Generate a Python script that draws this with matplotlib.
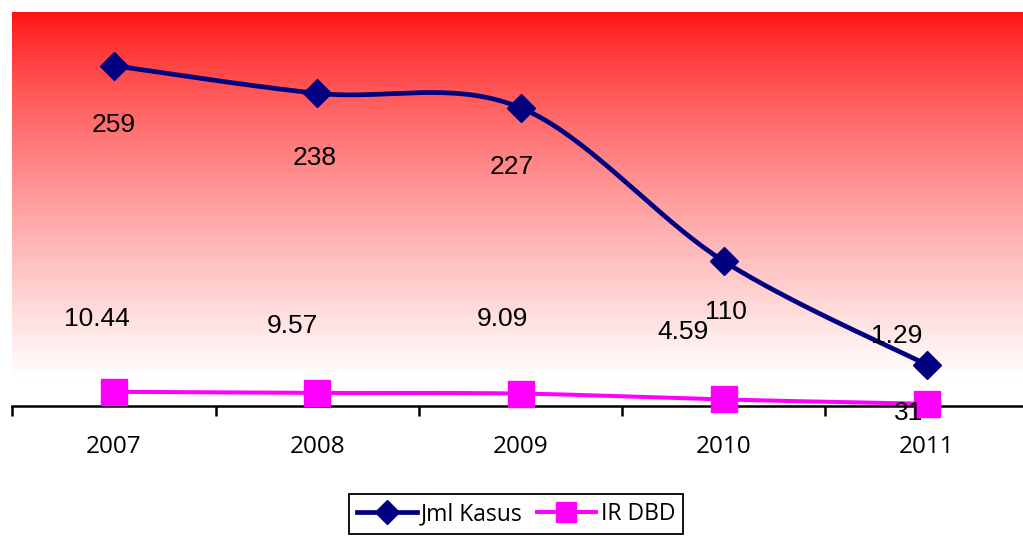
import numpy as np
import matplotlib
matplotlib.use("Agg")
import matplotlib.pyplot as plt

# data per year
years = ["2007", "2008", "2009", "2010", "2011"]
jml_kasus = [259, 238, 227, 110, 31]
ir_dbd = [10.44, 9.57, 9.09, 4.59, 1.29]

# label offsets (pixels) from each marker
kasus_offsets = [(-0.5, -59), (-3, -64.5), (-9, -59), (2, -51), (-18, -48.5)]
ir_offsets = [(-17.5, 73), (-24.5, 66.5), (-18, 74.5), (-40.5, 67), (-30, 68)]


def smooth(xs, ys, n=40):
    # cubic bezier through points, catmull-rom style handles
    px = np.asarray(xs, float)
    py = np.asarray(ys, float)
    outx, outy = [], []
    m = len(px)
    for i in range(m - 1):
        i0 = max(i - 1, 0)
        i3 = min(i + 2, m - 1)
        c1x = px[i] + (px[i + 1] - px[i0]) / 6
        c1y = py[i] + (py[i + 1] - py[i0]) / 6
        c2x = px[i + 1] - (px[i3] - px[i]) / 6
        c2y = py[i + 1] - (py[i3] - py[i]) / 6
        t = np.linspace(0, 1, n)
        a = (1 - t) ** 3
        b = 3 * (1 - t) ** 2 * t
        c = 3 * (1 - t) * t ** 2
        d = t ** 3
        outx.extend(a * px[i] + b * c1x + c * c2x + d * px[i + 1])
        outy.extend(a * py[i] + b * c1y + c * c2y + d * py[i + 1])
    return np.array(outx), np.array(outy)


W, H = 1023, 538
fig = plt.figure(figsize=(W / 100, H / 100), dpi=100)
ax = fig.add_axes([12.4 / W, (H - 405.5) / H, 1016.2 / W, 393.5 / H])

x = np.arange(len(years))
ax.set_xlim(-0.5, len(years) - 0.5)
ax.set_ylim(0, 300)

# red at the top fading to white
rows = 400
frac = np.clip(np.linspace(0, 1, rows) / 0.93, 0, 1) ** 0.8
g = 16 + (255 - 16) * frac
grad = np.zeros((rows, 2, 3))
grad[:, :, 0] = 1.0
grad[:, :, 1] = (g / 255)[:, None]
grad[:, :, 2] = (g / 255)[:, None]
ax.imshow(grad, extent=[-0.5, len(years) - 0.5, 0, 300], origin="upper",
          aspect="auto", zorder=0, interpolation="bilinear")
ax.set_ylim(0, 300)

navy = "#000080"
magenta = "#FF00FF"

sx, sy = smooth(x, jml_kasus)
ax.plot(sx, sy, color=navy, lw=3.4, zorder=4, clip_on=False,
        solid_capstyle="round")
ax.plot(x, jml_kasus, ls="none", marker="D", ms=14, color=navy,
        zorder=5, clip_on=False)

sx2, sy2 = smooth(x, ir_dbd)
ax.plot(sx2, sy2, color=magenta, lw=2.9, zorder=4, clip_on=False)
ax.plot(x, ir_dbd, ls="none", marker="s", ms=19, color=magenta,
        zorder=5, clip_on=False)

# legend proxies
ax.plot([], [], color=navy, lw=3.4, marker="D", ms=12, label="Jml Kasus")
ax.plot([], [], color=magenta, lw=2.9, marker="s", ms=14, label="IR DBD")

for xi, v, off in zip(x, jml_kasus, kasus_offsets):
    ax.annotate(str(v), (xi, v), xytext=off, textcoords="offset pixels",
                ha="center", va="center", fontsize=19,
                family="Liberation Sans", zorder=7, annotation_clip=False)
for xi, v, off in zip(x, ir_dbd, ir_offsets):
    ax.annotate("%.2f" % v, (xi, v), xytext=off, textcoords="offset pixels",
                ha="center", va="center", fontsize=19,
                family="Liberation Sans", zorder=7, annotation_clip=False)

# axis: ticks on category boundaries, labels in between
for s in ["left", "right", "top"]:
    ax.spines[s].set_visible(False)
ax.spines["bottom"].set_linewidth(1.8)
ax.spines["bottom"].set_zorder(3)
ax.set_yticks([])
ax.set_xticks(np.arange(-0.5, len(years)), labels=[])
ax.tick_params(axis="x", which="major", length=7, width=1.8, direction="out")
ax.set_xticks(x, labels=years, minor=True)
ax.tick_params(axis="x", which="minor", length=0, pad=21, labelsize=17.5)
for lab in ax.get_xticklabels(minor=True):
    lab.set_family("Open Sans")

leg = fig.legend(loc="upper left", bbox_to_anchor=(349 / W, 1 - 494 / H),
                 ncol=2, frameon=True, fancybox=False, framealpha=1,
                 edgecolor="black", handlelength=2.6, handletextpad=0.2,
                 columnspacing=0.6, borderpad=0.35, borderaxespad=0,
                 prop={"family": "Open Sans", "size": 16.5})
leg.get_frame().set_linewidth(1.3)

fig.savefig("out.png", dpi=100)
